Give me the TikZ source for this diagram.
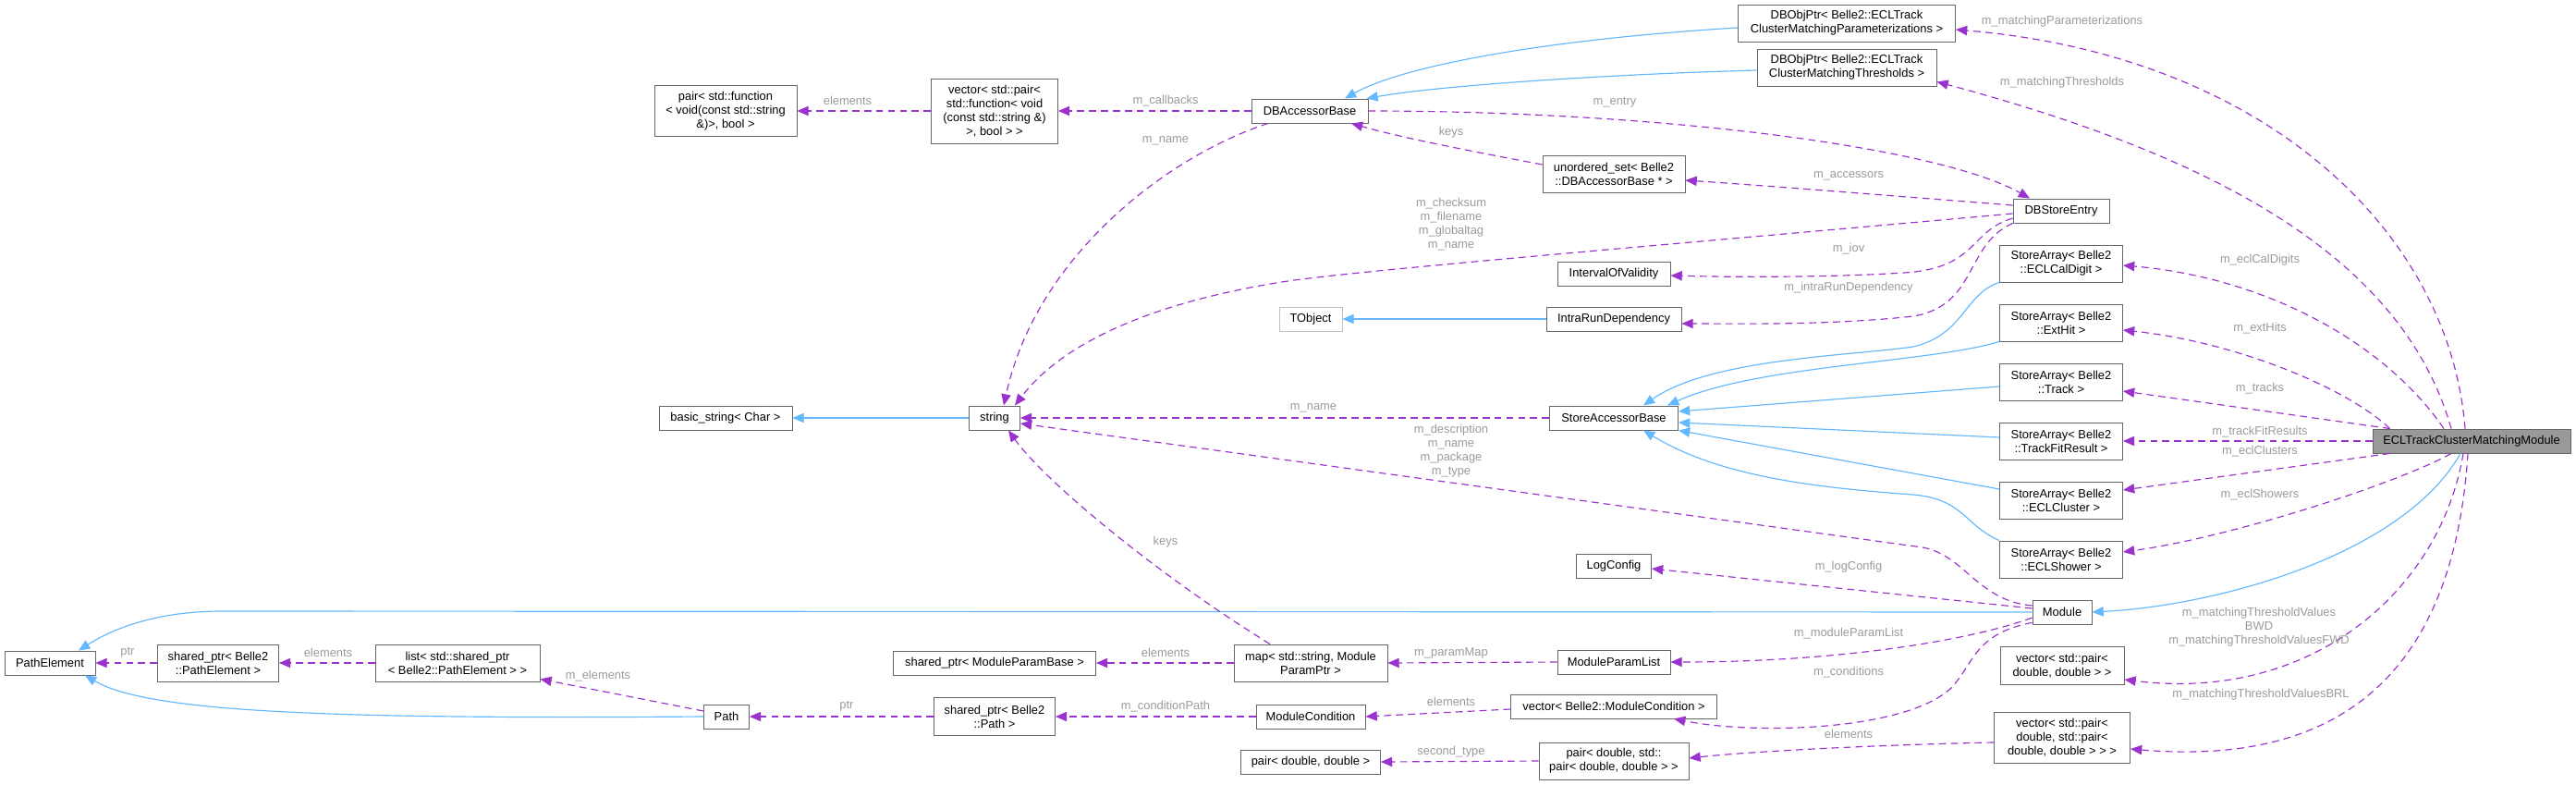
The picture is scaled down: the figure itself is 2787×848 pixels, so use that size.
\documentclass[tikz,border=0pt]{standalone}
\usepackage{fontspec}
\setmainfont{Liberation Sans}
\usetikzlibrary{arrows.meta,calc}
\newlength{\px}\setlength{\px}{0.775pt}
\definecolor{inhblue}{HTML}{63B8FF}
\definecolor{deppurple}{HTML}{9A32CD}
\definecolor{lblgray}{HTML}{9A9A9A}
\definecolor{boxgray}{HTML}{666666}
\definecolor{lightbox}{HTML}{BFBFBF}
\definecolor{focusfill}{HTML}{999999}
\begin{document}
\begin{tikzpicture}[x=0.775pt, y=-0.775pt,
  box/.style={draw=boxgray, fill=white, line width=0.7pt, inner sep=0pt, align=center,
    font=\fontsize{10}{11.6}\selectfont, minimum height=26\px},
  lbl/.style={text=lblgray, inner sep=0pt, align=center, font=\fontsize{10}{11.6}\selectfont},
  inh/.style={draw=inhblue, line width=0.9pt, -{Triangle[length=9.5pt,width=8pt]}},
  dep/.style={draw=deppurple, line width=0.9pt, dash pattern=on 6pt off 4pt, -{Triangle[length=9.5pt,width=8pt]}}]
\useasboundingbox (0,0) rectangle (2787,848);
% nodes
\node[box, minimum width=98\px] (pe) at (54,717) {PathElement};
\node[box, minimum width=131\px, minimum height=40\px] (sppe) at (236,717) {shared\_ptr< Belle2\\::PathElement >};
\node[box, minimum width=178\px, minimum height=40\px] (lst) at (495,717) {list< std::shared\_ptr\\< Belle2::PathElement > >};
\node[box, minimum width=154\px, minimum height=55\px] (pairfn) at (785,120) {pair< std::function\\< void(const std::string\\\&)>, bool >};
\node[box, minimum width=144\px] (bstr) at (785,452) {basic\_string< Char >};
\node[box, minimum width=49\px] (path) at (786,775) {Path};
\node[box, minimum width=137\px, minimum height=70\px] (vecfn) at (1076,120) {vector< std::pair<\\std::function< void\\(const std::string \&)\\>, bool > >};
\node[box, minimum width=55\px] (str) at (1076,452) {string};
\node[box, minimum width=219\px] (spmpb) at (1076,717) {shared\_ptr< ModuleParamBase >};
\node[box, minimum width=131\px, minimum height=41\px] (spp) at (1076,775) {shared\_ptr< Belle2\\::Path >};
\node[box, minimum width=126\px] (dbab) at (1417,120) {DBAccessorBase};
\node[box, draw=lightbox, minimum width=68\px] (tobj) at (1418,345) {TObject};
\node[box, minimum width=166\px, minimum height=40\px] (map) at (1418,717) {map< std::string, Module\\ParamPtr >};
\node[box, minimum width=118\px] (mc) at (1418,775) {ModuleCondition};
\node[box, minimum width=151\px] (pdd) at (1418,824) {pair< double, double >};
\node[box, minimum width=154\px, minimum height=40\px] (uset) at (1746,188) {unordered\_set< Belle2\\::DBAccessorBase * >};
\node[box, minimum width=122\px] (iov) at (1746,296) {IntervalOfValidity};
\node[box, minimum width=146\px] (ird) at (1746,345) {IntraRunDependency};
\node[box, minimum width=139\px] (sab) at (1746,452) {StoreAccessorBase};
\node[box, minimum width=81\px] (logc) at (1746,612) {LogConfig};
\node[box, minimum width=122\px] (mpl) at (1746,716) {ModuleParamList};
\node[box, minimum width=223\px] (vmc) at (1746,764) {vector< Belle2::ModuleCondition >};
\node[box, minimum width=162\px, minimum height=40\px] (pdp) at (1746,823) {pair< double, std::\\pair< double, double > >};
\node[box, minimum width=235\px, minimum height=40\px] (dbpp) at (1998,25) {DBObjPtr< Belle2::ECLTrack\\ClusterMatchingParameterizations >};
\node[box, minimum width=194\px, minimum height=40\px] (dbpt) at (1998,73) {DBObjPtr< Belle2::ECLTrack\\ClusterMatchingThresholds >};
\node[box, minimum width=104\px] (dbse) at (2230,228) {DBStoreEntry};
\node[box, minimum width=133\px, minimum height=40\px] (sacd) at (2230,285) {StoreArray< Belle2\\::ECLCalDigit >};
\node[box, minimum width=133\px, minimum height=40\px] (saeh) at (2230,349) {StoreArray< Belle2\\::ExtHit >};
\node[box, minimum width=133\px, minimum height=40\px] (satr) at (2230,413) {StoreArray< Belle2\\::Track >};
\node[box, minimum width=133\px, minimum height=40\px] (satf) at (2230,477) {StoreArray< Belle2\\::TrackFitResult >};
\node[box, minimum width=133\px, minimum height=40\px] (sacl) at (2230,541) {StoreArray< Belle2\\::ECLCluster >};
\node[box, minimum width=133\px, minimum height=40\px] (sash) at (2230,605) {StoreArray< Belle2\\::ECLShower >};
\node[box, minimum width=64\px] (mod) at (2231,662) {Module};
\node[box, minimum width=134\px, minimum height=41\px] (vpdd) at (2231,720) {vector< std::pair<\\double, double > >};
\node[box, minimum width=147\px, minimum height=55\px] (vpdp) at (2231,798) {vector< std::pair<\\double, std::pair<\\double, double > > >};
\node[box, fill=focusfill, minimum width=214\px] (ecl) at (2674,477) {ECLTrackClusterMatchingModule};
% inheritance edges
\draw[inh] ($(dbpp.west)+(0,5)$) .. controls (1680,42) and (1520,70) .. ($(dbab.north)+(38,0)$);
\draw[inh] ($(dbpt.west)+(0,3)$) .. controls (1750,80) and (1560,92) .. ($(dbab.north east)+(-2,0)$);
\draw[inh] (sacd.south west) .. controls (2125,318) and (2125,362) .. (2070,375) .. controls (2000,385) and (1850,388) .. ($(sab.north)+(32,0)$);
\draw[inh] (saeh.south west) .. controls (2090,392) and (1900,395) .. ($(sab.north)+(58,0)$);
\draw[inh] ($(satr.west)+(0,5)$) -- ($(sab.east)+(0,-7)$);
\draw[inh] ($(satf.west)+(0,-4)$) -- ($(sab.east)+(0,5)$);
\draw[inh] ($(sacl.west)+(0,-12)$) -- (sab.south east);
\draw[inh] (sash.north west) .. controls (2125,568) and (2125,540) .. (2070,535) .. controls (1960,527) and (1860,515) .. ($(sab.south)+(32,0)$);
\draw[inh] (mod.west) -- (240,661) .. controls (180,661) and (130,675) .. ($(pe.north)+(31,0)$);
\draw[inh] ($(ecl.south)+(-12,0)$) .. controls (2600,600) and (2400,655) .. (mod.east);
\draw[inh] (path.west) .. controls (350,778) and (160,770) .. ($(pe.south)+(38,0)$);
\draw[inh] (ird.west) -- (tobj.east);
\draw[inh] (str.west) -- (bstr.east);
% dependency edges
\draw[dep] (vecfn.west) -- (pairfn.east);
\draw[dep] (dbab.west) -- (vecfn.east);
\draw[dep] ($(dbab.south)+(-45,0)$) .. controls (1260,170) and (1120,280) .. ($(str.north)+(10,0)$);
\draw[dep] (dbab.east) .. controls (1800,120) and (2100,160) .. ($(dbse.north)+(-34,0)$);
\draw[dep] ($(uset.west)+(0,-10)$) .. controls (1600,165) and (1520,150) .. ($(dbab.south)+(45,0)$);
\draw[dep] ($(dbse.west)+(0,-6)$) .. controls (2050,212) and (1900,200) .. ($(uset.east)+(0,7)$);
\draw[dep] ($(dbse.west)+(0,3)$) .. controls (1800,265) and (1500,290) .. (1400,303) .. controls (1250,325) and (1150,370) .. ($(str.north)+(22,0)$);
\draw[dep] ($(dbse.west)+(0,8)$) .. controls (2130,250) and (2140,290) .. (2060,295) .. controls (1980,300) and (1880,300) .. ($(iov.east)+(0,2)$);
\draw[dep] (dbse.south west) .. controls (2125,265) and (2140,330) .. (2070,342) .. controls (1980,352) and (1880,350) .. ($(ird.east)+(0,5)$);
\draw[dep] (sab.west) -- (str.east);
\draw[dep] ($(mod.west)+(0,-7)$) .. controls (2140,650) and (2125,600) .. (2080,592) -- ($(str.east)+(0,6)$);
\draw[dep] ($(mod.west)+(0,-4)$) -- ($(logc.east)+(0,3)$);
\draw[dep] ($(mod.west)+(0,6)$) .. controls (2140,690) and (2000,716) .. (mpl.east);
\draw[dep] ($(mod.south west)+(0,-2)$) .. controls (2135,685) and (2135,720) .. (2110,745) .. controls (2060,790) and (1900,795) .. ($(vmc.south)+(65,0)$);
\draw[dep] (mpl.west) -- (map.east);
\draw[dep] (map.west) -- (spmpb.east);
\draw[dep] ($(map.north)+(-44,0)$) .. controls (1250,620) and (1130,520) .. ($(str.south)+(15,0)$);
\draw[dep] ($(vmc.west)+(0,3)$) -- (mc.east);
\draw[dep] (mc.west) -- (spp.east);
\draw[dep] (spp.west) -- (path.east);
\draw[dep] ($(path.west)+(0,-6)$) -- ($(lst.south east)+(0,-3)$);
\draw[dep] (lst.west) -- (sppe.east);
\draw[dep] (sppe.west) -- (pe.east);
\draw[dep] ($(vpdp.west)+(0,5)$) .. controls (2050,805) and (1900,812) .. ($(pdp.east)+(0,-3)$);
\draw[dep] (pdp.west) -- (pdd.east);
\draw[dep] ($(ecl.north)+(-7,0)$) .. controls (2650,250) and (2450,60) .. ($(dbpp.east)+(0,7)$);
\draw[dep] ($(ecl.north)+(-22,0)$) .. controls (2600,280) and (2400,170) .. ($(dbpt.south east)+(0,-5)$);
\draw[dep] ($(ecl.north)+(-30,0)$) .. controls (2580,370) and (2450,300) .. ($(sacd.east)+(0,2)$);
\draw[dep] ($(ecl.north west)+(19,0)$) .. controls (2540,420) and (2420,370) .. ($(saeh.east)+(0,8)$);
\draw[dep] ($(ecl.north west)+(19,0)$) -- ($(satr.east)+(0,10)$);
\draw[dep] (ecl.west) -- (satf.east);
\draw[dep] ($(ecl.south west)+(19,0)$) -- ($(sacl.east)+(0,-11)$);
\draw[dep] ($(ecl.south)+(-22,0)$) .. controls (2600,520) and (2420,580) .. ($(sash.east)+(0,-8)$);
\draw[dep] ($(ecl.south)+(-9,0)$) .. controls (2640,640) and (2500,760) .. ($(vpdd.east)+(0,15)$);
\draw[dep] ($(ecl.south)+(-4,0)$) .. controls (2655,720) and (2540,830) .. ($(vpdp.east)+(0,12)$);
% labels
\node[lbl] (l1) at (138,706) {ptr};
\node[lbl] (l2) at (355,706) {elements};
\node[lbl] (l3) at (647,731) {m\_elements};
\node[lbl] (l4) at (917,109) {elements};
\node[lbl] (l5) at (1261,109) {m\_callbacks};
\node[lbl] (l6) at (1261,152) {m\_name};
\node[lbl] (l7) at (1261,586) {keys};
\node[lbl] (l8) at (1421,441) {m\_name};
\node[lbl] (l9) at (1261,706) {elements};
\node[lbl] (l10) at (916,764) {ptr};
\node[lbl] (l11) at (1261,764) {m\_conditionPath};
\node[lbl] (l12) at (1747,111) {m\_entry};
\node[lbl] (l13) at (1570,143) {keys};
\node[lbl] (l14) at (2000,190) {m\_accessors};
\node[lbl] (l15) at (1570,243) {m\_checksum\\m\_filename\\m\_globaltag\\m\_name};
\node[lbl] (l16) at (2000,269) {m\_iov};
\node[lbl] (l17) at (2000,311) {m\_intraRunDependency};
\node[lbl] (l18) at (1570,488) {m\_description\\m\_name\\m\_package\\m\_type};
\node[lbl] (l19) at (2000,613) {m\_logConfig};
\node[lbl] (l20) at (2000,685) {m\_moduleParamList};
\node[lbl] (l21) at (1570,706) {m\_paramMap};
\node[lbl] (l22) at (2000,727) {m\_conditions};
\node[lbl] (l23) at (1570,759) {elements};
\node[lbl] (l24) at (1570,813) {second\_type};
\node[lbl] (l25) at (2000,794) {elements};
\node[lbl] (l26) at (2231,23) {m\_matchingParameterizations};
\node[lbl] (l27) at (2231,89) {m\_matchingThresholds};
\node[lbl] (l28) at (2445,281) {m\_eclCalDigits};
\node[lbl] (l29) at (2445,355) {m\_extHits};
\node[lbl] (l30) at (2445,420) {m\_tracks};
\node[lbl] (l31) at (2445,467) {m\_trackFitResults};
\node[lbl] (l32) at (2445,488) {m\_eclClusters};
\node[lbl] (l33) at (2445,535) {m\_eclShowers};
\node[lbl] (l34) at (2444,678) {m\_matchingThresholdValues\\BWD\\m\_matchingThresholdValuesFWD};
\node[lbl] (l35) at (2446,751) {m\_matchingThresholdValuesBRL};
\end{tikzpicture}
\end{document}
